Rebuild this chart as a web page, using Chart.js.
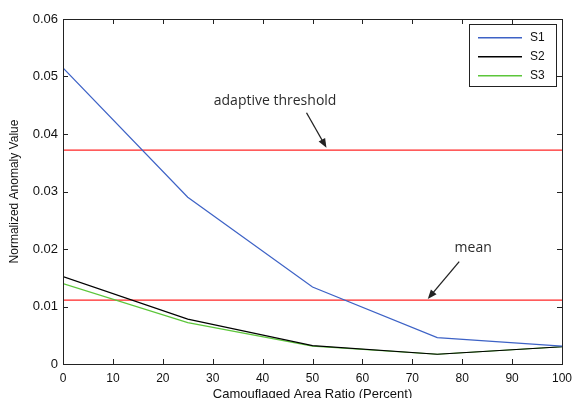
<!DOCTYPE html>
<html lang="en">
<head>
  <meta charset="UTF-8">
  <title>Normalized Anomaly Value</title>
  <style>
    html, body { margin: 0; padding: 0; background: #fff; }
  </style>
</head>
<body>
<div>
  <canvas id="chart" width="574" height="398"></canvas>
</div>

<script src="https://cdn.jsdelivr.net/npm/chart.js"></script>

<script>
  // camouflaged area ratio (percent)
  const ratios = [0, 25, 50, 75, 100];

  const s1 = [0.0515, 0.0290, 0.0134, 0.0046, 0.0031];
  const s2 = [0.0152, 0.0078, 0.0032, 0.0017, 0.0030];
  const s3 = [0.0140, 0.0072, 0.0031, 0.0017, 0.0030];

  const lineEnds = [0, 100];
  const adaptiveThreshold = [0.0372, 0.0372];
  const meanLevel = [0.0111, 0.0111];

  const xTicks = [0, 10, 20, 30, 40, 50, 60, 70, 80, 90, 100];
  const yTicks = [0, 0.01, 0.02, 0.03, 0.04, 0.05, 0.06];

  // text + arrow (tail -> head) in data units
  const notes = [
    { text: 'adaptive threshold', at: [42.5, 0.0458], from: [48.8, 0.0437], to: [52.8, 0.0376] },
    { text: 'mean', at: [82.2, 0.0202], from: [79.4, 0.0178], to: [73.1, 0.0113] },
  ];

  const pts = (xs, ys) => xs.map((x, i) => ({ x, y: ys[i] }));

  const series = [
    { label: 'S1', data: pts(ratios, s1), borderColor: '#3d62c6' },
    { label: 'S2', data: pts(ratios, s2), borderColor: '#000000' },
    { label: 'S3', data: pts(ratios, s3), borderColor: '#5cc63a' },
  ];

  const levels = [
    { label: 'adaptive threshold', data: pts(lineEnds, adaptiveThreshold), borderColor: '#ff2424', legend: false },
    { label: 'mean', data: pts(lineEnds, meanLevel), borderColor: '#ff2424', legend: false },
  ];

  const datasets = [...series, ...levels].map((d) => ({
    ...d,
    borderWidth: 1.2,
    pointRadius: 0,
    tension: 0,
    fill: false,
  }));

  // box frame and inward tick marks on all four sides
  const frame = {
    id: 'frame',
    afterDatasetsDraw(chart) {
      const { ctx, chartArea: a, scales } = chart;
      ctx.save();
      ctx.strokeStyle = '#222';
      ctx.lineWidth = 1;
      ctx.strokeRect(a.left + 0.5, a.top + 0.5, a.right - a.left, a.bottom - a.top);
      ctx.beginPath();
      xTicks.forEach((v) => {
        const px = Math.round(scales.x.getPixelForValue(v)) + 0.5;
        ctx.moveTo(px, a.bottom); ctx.lineTo(px, a.bottom - 5);
        ctx.moveTo(px, a.top); ctx.lineTo(px, a.top + 5);
      });
      yTicks.forEach((v) => {
        const py = Math.round(scales.y.getPixelForValue(v)) + 0.5;
        ctx.moveTo(a.left, py); ctx.lineTo(a.left + 5, py);
        ctx.moveTo(a.right, py); ctx.lineTo(a.right - 5, py);
      });
      ctx.stroke();
      ctx.restore();
    }
  };

  // legend box inside the upper right corner
  const boxLegend = {
    id: 'boxLegend',
    afterDraw(chart) {
      const { ctx, chartArea: a } = chart;
      const items = chart.data.datasets.filter((d) => d.legend !== false);
      const w = 87, h = 62;
      const x0 = Math.round(a.right - 6 - w), y0 = Math.round(a.top + 5);
      ctx.save();
      ctx.fillStyle = '#fff';
      ctx.fillRect(x0, y0, w, h);
      ctx.strokeStyle = '#222';
      ctx.lineWidth = 1;
      ctx.strokeRect(x0 + 0.5, y0 + 0.5, w, h);
      ctx.font = '12px "Liberation Sans", Arial, sans-serif';
      ctx.textBaseline = 'middle';
      items.forEach((d, i) => {
        const y = y0 + 13 + i * 19;
        ctx.fillStyle = d.borderColor;
        ctx.fillRect(x0 + 9, y, 44, 1.5);
        ctx.fillStyle = '#111';
        ctx.fillText(d.label, x0 + 61, y + 1);
      });
      ctx.restore();
    }
  };

  // labels with arrows
  const callouts = {
    id: 'callouts',
    afterDraw(chart) {
      const { ctx, scales: { x, y } } = chart;
      ctx.save();
      notes.forEach((n) => {
        ctx.font = '14px "Open Sans", Lato, sans-serif';
        ctx.fillStyle = '#2b2b2b';
        ctx.textAlign = 'center';
        ctx.textBaseline = 'middle';
        ctx.fillText(n.text, x.getPixelForValue(n.at[0]), y.getPixelForValue(n.at[1]));

        const x1 = x.getPixelForValue(n.from[0]), y1 = y.getPixelForValue(n.from[1]);
        const x2 = x.getPixelForValue(n.to[0]), y2 = y.getPixelForValue(n.to[1]);
        const ang = Math.atan2(y2 - y1, x2 - x1);
        ctx.strokeStyle = '#222';
        ctx.fillStyle = '#222';
        ctx.lineWidth = 1.3;
        ctx.beginPath();
        ctx.moveTo(x1, y1);
        ctx.lineTo(x2 - 7 * Math.cos(ang), y2 - 7 * Math.sin(ang));
        ctx.stroke();
        ctx.beginPath();
        ctx.moveTo(x2, y2);
        ctx.lineTo(x2 - 10 * Math.cos(ang - 0.38), y2 - 10 * Math.sin(ang - 0.38));
        ctx.lineTo(x2 - 10 * Math.cos(ang + 0.38), y2 - 10 * Math.sin(ang + 0.38));
        ctx.closePath();
        ctx.fill();
      });
      ctx.restore();
    }
  };

  const family = '"Liberation Sans", Arial, sans-serif';

  new Chart(document.getElementById('chart'), {
    type: 'line',
    data: { datasets },
    plugins: [frame, boxLegend, callouts],
    options: {
      responsive: false,
      animation: false,
      layout: { padding: { top: 19, right: 12, left: 0, bottom: 0 } },
      plugins: {
        legend: { display: false },
        tooltip: { enabled: false },
      },
      scales: {
        x: {
          type: 'linear',
          min: 0,
          max: 100,
          afterFit: (s) => {
            s.height = 34;
            s.paddingLeft = 0;
            s.paddingRight = 0;
          },
          afterBuildTicks: (s) => { s.ticks = xTicks.map((value) => ({ value })); },
          grid: { display: false, tickLength: 0 },
          border: { display: false },
          ticks: { color: '#111', font: { family, size: 12 }, padding: 7, maxRotation: 0 },
          title: {
            display: true,
            text: 'Camouflaged Area Ratio (Percent)',
            color: '#111',
            font: { family, size: 13 },
            padding: { top: 0, bottom: -4 },
          },
        },
        y: {
          type: 'linear',
          min: 0,
          max: 0.06,
          afterFit: (s) => {
            s.width = 63;
            s.paddingTop = 0;
            s.paddingBottom = 0;
          },
          afterBuildTicks: (s) => { s.ticks = yTicks.map((value) => ({ value })); },
          grid: { display: false, tickLength: 0 },
          border: { display: false },
          ticks: {
            color: '#111',
            font: { family, size: 13 },
            padding: 5,
            callback: (v) => (v === 0 ? '0' : v.toFixed(2)),
          },
          title: {
            display: true,
            text: 'Normalized Anomaly Value',
            color: '#111',
            font: { family, size: 12 },
            padding: { top: 7, bottom: 0 },
          },
        },
      },
    },
  });
</script>
</body>
</html>
